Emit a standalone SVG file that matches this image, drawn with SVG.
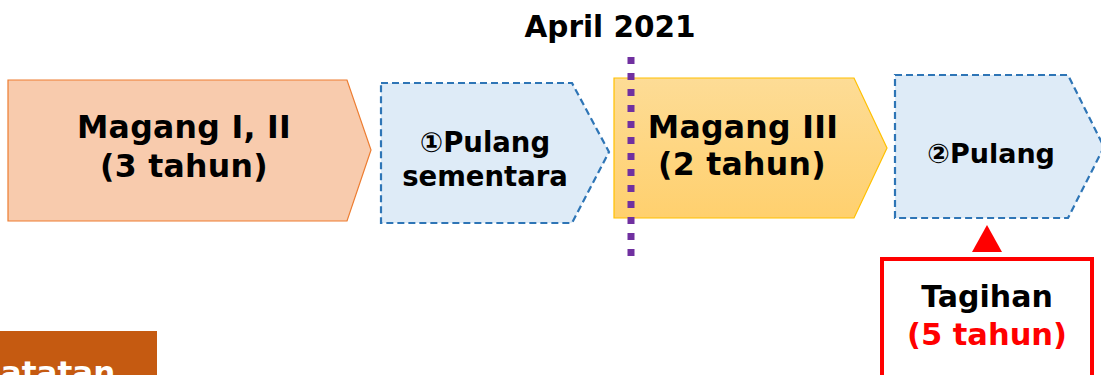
<svg xmlns="http://www.w3.org/2000/svg" width="1101" height="375" viewBox="0 0 1101 375">
<defs>
<linearGradient id="gy" x1="0" y1="0" x2="0" y2="1">
<stop offset="0" stop-color="#FDDC96"/>
<stop offset="1" stop-color="#FFD06E"/>
</linearGradient>
<style>
.t{font-family:"DejaVu Sans","Noto Sans",sans-serif;font-weight:bold;text-anchor:middle;fill:#000}
.blue{fill:#DEEBF7;stroke:#2E75B6;stroke-width:2.2;stroke-dasharray:7 4}
</style>
</defs>
<rect width="1101" height="375" fill="#fff"/>
<text class="t" x="610" y="37" font-size="29.5">April 2021</text>
<g id="n1">
<polygon points="8,80 347,80 371,150 347,221 8,221" fill="#F8CBAD" stroke="#ED7D31" stroke-width="1.2"/>
<text class="t" x="184" y="138" font-size="31.5" letter-spacing="0.3">Magang I, II</text>
<text class="t" x="184" y="177" font-size="31.5" letter-spacing="0.3">(3 tahun)</text>
</g>
<g id="n2">
<polygon class="blue" points="381,83 572,83 609,152 572,223 381,223"/>
<text class="t" x="485" y="152" font-size="27.5">①Pulang</text>
<text class="t" x="485" y="186" font-size="27.5">sementara</text>
</g>
<g id="n3">
<polygon points="614,78 854,78 887,148 854,218 614,218" fill="url(#gy)" stroke="#FFC000" stroke-width="1.2"/>
<text class="t" x="743" y="138" font-size="31.5" letter-spacing="0.3">Magang III</text>
<text class="t" x="742" y="175" font-size="31.5" letter-spacing="0.3">(2 tahun)</text>
</g>
<g id="n4">
<polygon class="blue" points="895,75 1068,75 1104,147 1068,218 895,218"/>
<text class="t" x="991" y="163" font-size="27">②Pulang</text>
</g>
<g id="connectors">
<line x1="631" y1="57" x2="631" y2="258" stroke="#7030A0" stroke-width="7" stroke-dasharray="7 9"/>
<polygon points="987,225 1002,252 972,252" fill="#FF0000"/>
</g>
<g id="n5">
<rect x="882" y="259" width="210" height="130" fill="#fff" stroke="#FF0000" stroke-width="4"/>
<text class="t" x="987" y="307" font-size="30">Tagihan</text>
<text class="t" x="987" y="345" font-size="30.5" style="fill:#FF0000">(5 tahun)</text>
</g>
<g id="n6">
<rect x="0" y="331" width="157" height="50" fill="#C55A11"/>
<text class="t" x="-22" y="383" font-size="31" style="fill:#fff;text-anchor:start">Catatan</text>
</g>
</svg>
